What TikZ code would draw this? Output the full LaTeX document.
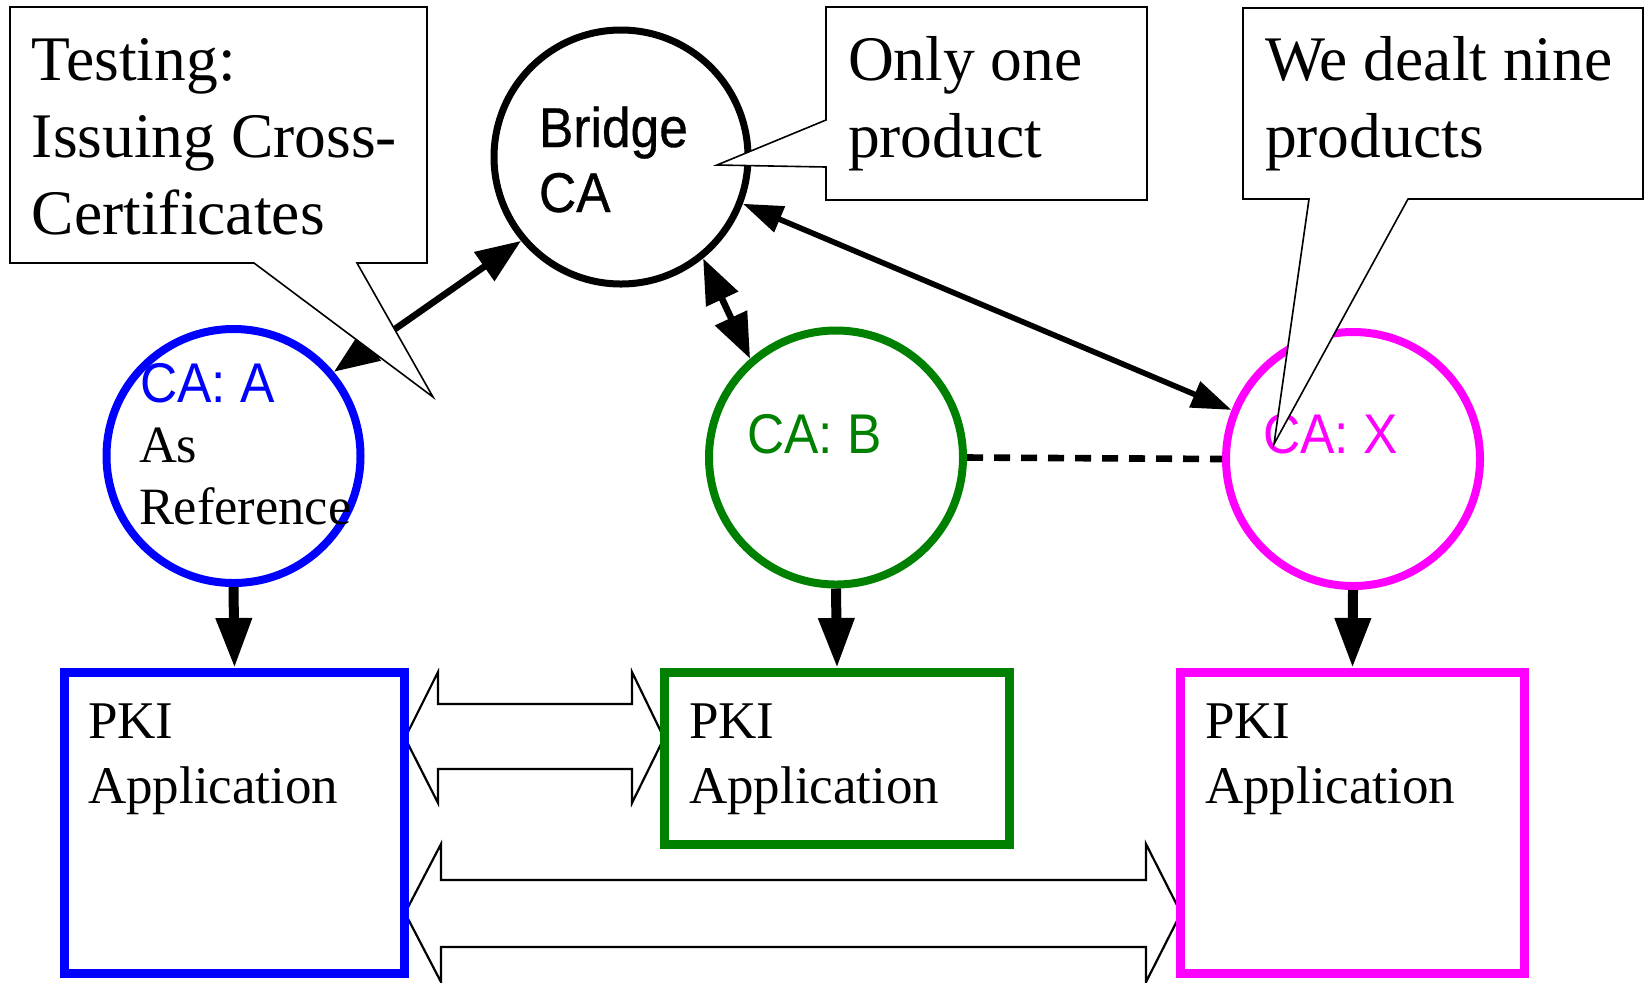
\documentclass[tikz,border=0pt]{standalone}
\usepackage{fontspec}
\setmainfont{Liberation Serif}
\setsansfont{Liberation Sans}[FakeStretch=0.92]
\newfontfamily\bridgefont{Liberation Sans}[FakeStretch=0.92,FakeBold=0.6]
\usetikzlibrary{arrows.meta}
\definecolor{cablue}{RGB}{0,0,255}
\definecolor{cagreen}{RGB}{0,128,0}
\definecolor{camag}{RGB}{255,0,255}
\tikzset{
  bigtip/.tip={Triangle[length=22.5pt,width=17pt]},
  smalltip/.tip={Triangle[length=20pt,width=13.5pt]},
  downtip/.tip={Triangle[length=25pt,width=17pt]},
  cacircle/.style={circle, draw=#1, line width=4pt, minimum size=127pt, inner sep=0pt},
  appbox/.style={rectangle, draw=#1, line width=4.5pt, inner sep=0pt},
  blockarrow/.style={draw=black, fill=white, line width=1.1pt, line join=miter},
  callout/.style={draw=black, fill=white, line width=0.8pt, line join=miter},
  txt/.style={inner sep=0pt, outer sep=0pt, anchor=base west, align=left},
  calltext/.style={txt, font=\fontsize{31.75pt}{38.5pt}\selectfont},
  boxtext/.style={txt, font=\fontsize{26.5pt}{32.5pt}\selectfont},
  catext/.style={txt, font=\sffamily\fontsize{28pt}{32.5pt}\selectfont},
  reftext/.style={txt, font=\fontsize{26.2pt}{31pt}\selectfont},
  dlink/.style={line width=3.3pt, {bigtip}-{bigtip}},
  downlink/.style={line width=5pt, -{downtip}},
}
\begin{document}
\begin{tikzpicture}[x=0.5pt,y=-0.5pt]
\useasboundingbox (0,0) rectangle (1648,982);
\clip (0,0) rectangle (1648,982);

% block arrows
\path[blockarrow] (405,738) -- (438,672) -- (438,704) -- (632,704) -- (632,672) -- (664,738)
  -- (632,803) -- (632,769) -- (438,769) -- (438,803) -- cycle;
\path[blockarrow] (405,913) -- (441,844) -- (441,880) -- (1146,880) -- (1146,844) -- (1181,913)
  -- (1146,982) -- (1146,947) -- (441,947) -- (441,982) -- cycle;

% application boxes
\node[appbox=cablue, minimum width=170pt, minimum height=150.5pt] (boxa) at (234.5,823) {};
\node[appbox=cagreen, minimum width=172.5pt, minimum height=86pt] (boxb) at (837,758.5) {};
\node[appbox=camag, minimum width=172pt, minimum height=150.5pt] (boxx) at (1352.5,823) {};

% CA circles
\node[cacircle=black, line width=3.5pt] (bridge) at (621,157) {};
\node[cacircle=cablue] (caa) at (233.5,456) {};
\node[cacircle=cagreen] (cab) at (836,457.5) {};
\node[cacircle=camag] (cax) at (1353,459) {};

% connectors
\draw[dlink] (caa.40) -- (bridge.220);
\draw[dlink] (bridge.-51) -- (cab.131);
\draw[line width=2.8pt, {smalltip}-{smalltip}] (bridge.-21) -- (cax.158);
\draw[line width=3.3pt, dash pattern=on 8pt off 5.5pt] (cab.east) -- (cax.west);
\draw[downlink] (caa.south) -- (boxa.north);
\draw[downlink] (cab.south) -- (boxb.north);
\draw[downlink] (cax.south) -- (boxx.north);

% labels in circles (anchored at the baseline of the last line)
\node[catext, font=\bridgefont\fontsize{28pt}{32.5pt}\selectfont] (lbridge) at (539,212) {Bridge\\CA};
\node[catext, text=cablue] (lcaa) at (140,402) {CA: A};
\node[reftext] (lref) at (139,524) {As\\Reference};
\node[catext, text=cagreen] (lcab) at (747,453) {CA: B};
\node[catext, text=camag] (lcax) at (1263,453) {CA: X};

% box texts
\node[boxtext] (ta) at (88,803) {PKI\\Application};
\node[boxtext] (tb) at (689,803) {PKI\\Application};
\node[boxtext] (tx) at (1205,803) {PKI\\Application};

% callouts
\path[callout] (10,7) -- (427,7) -- (427,263) -- (357,263) -- (433,397) -- (254,263) -- (10,263) -- cycle;
\path[callout] (826,7) -- (1147,7) -- (1147,200) -- (826,200) -- (826,167) -- (717,165) -- (826,120) -- cycle;
\path[callout] (1243,8) -- (1643,8) -- (1643,199) -- (1408,199) -- (1274,444) -- (1309,199) -- (1243,199) -- cycle;

\node[calltext] (c1) at (32,234) {Testing:\\Issuing Cross-\\Certificates};
\node[calltext] (c2) at (848,157) {Only one\\product};
\node[calltext] (c3) at (1265,157) {We dealt nine\\products};
\end{tikzpicture}
\end{document}
